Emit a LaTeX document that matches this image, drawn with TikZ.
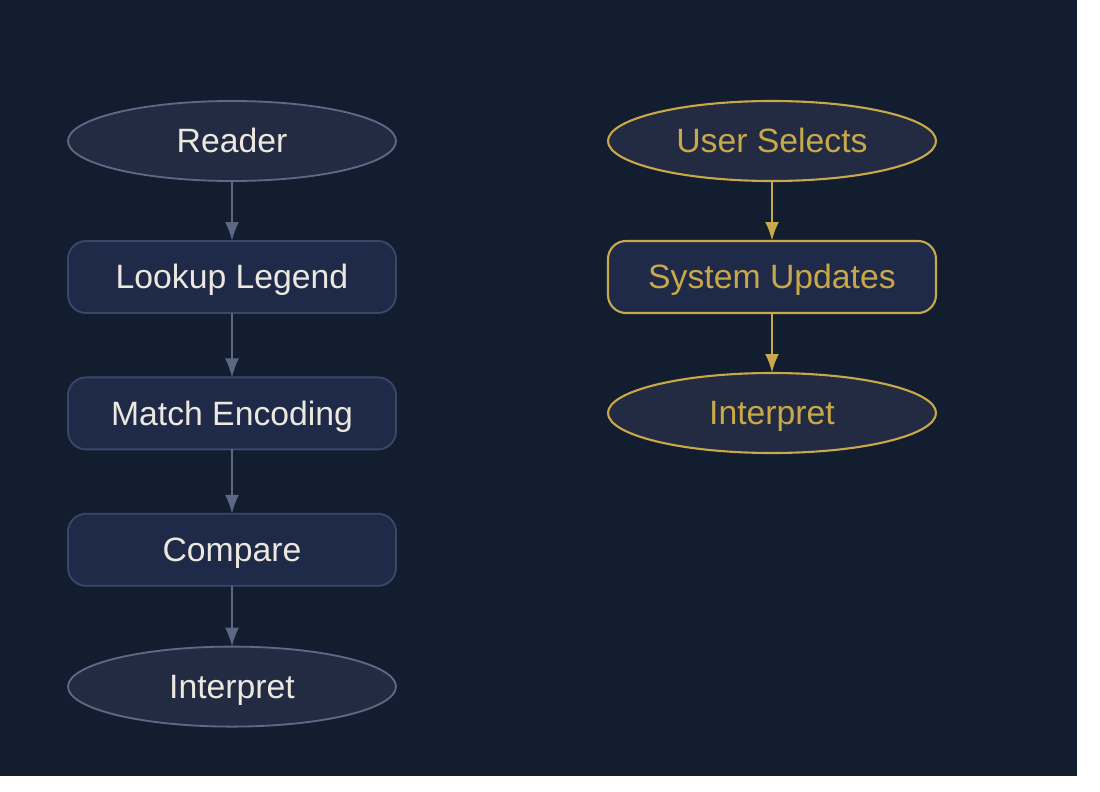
\documentclass[tikz,border=0pt]{standalone}
\usepackage{fontspec}
\setmainfont{Liberation Sans}
\usetikzlibrary{shapes.geometric, arrows.meta, positioning}
\definecolor{pagebg}{HTML}{131D30}
\definecolor{ovalfill}{HTML}{222B42}
\definecolor{ovalline}{HTML}{5D6A85}
\definecolor{boxfill}{HTML}{1E2A47}
\definecolor{boxline}{HTML}{3A4868}
\definecolor{labeltext}{HTML}{ECE8E0}
\definecolor{gold}{HTML}{C9A84A}
\definecolor{linkgray}{HTML}{5C6782}
\tikzset{
  oval/.style={ellipse, draw=ovalline, fill=ovalfill, line width=1.3pt,
               minimum width=8.2cm, minimum height=2.0cm, inner sep=0pt,
               outer sep=0pt, text=labeltext, text height=17pt, text depth=0pt,
               font=\fontsize{24}{28}\selectfont},
  stage/.style={rectangle, rounded corners=0.45cm, draw=boxline, fill=boxfill,
                line width=1.3pt, minimum width=8.2cm, minimum height=1.8cm,
                inner sep=0pt, outer sep=0pt, text=labeltext, text height=17pt,
                text depth=0pt, font=\fontsize{24}{28}\selectfont},
  hot/.style={draw=gold, text=gold, line width=1.5pt},
  arrow/.style={-{Latex[length=0.475cm,width=0.35cm]}, draw=linkgray,
                fill=linkgray, line width=1.5pt},
  hotarrow/.style={-{Latex[length=0.475cm,width=0.35cm]}, draw=gold,
                   fill=gold, line width=2.1pt}
}

\begin{document}
\begin{tikzpicture}

  % canvas
  \fill[white] (0,0) rectangle (27.5,-19.8);
  \fill[pagebg] (0,0) rectangle (26.925,-19.4);
  \useasboundingbox (0,0) rectangle (27.5,-19.8);

  % reading path
  \node[oval] (reader) at (5.8,-3.525) {Reader};

  \node[stage, below=1.5cm of reader] (legend) {Lookup Legend};

  \node[stage, below=1.61cm of legend] (match) {Match Encoding};

  \node[stage, below=1.61cm of match] (compare) {Compare};

  \node[oval, below=1.52cm of compare] (interpret) {Interpret};

  % interactive path
  \node[oval, hot, right=5.3cm of reader] (select) {User Selects};

  \node[stage, hot, below=1.5cm of select] (update) {System Updates};

  \node[oval, hot, below=1.5cm of update] (result) {Interpret};

  \draw[arrow] (reader)  -- (legend);
  \draw[arrow] (legend)  -- (match);
  \draw[arrow] (match)   -- (compare);
  \draw[arrow] (compare) -- (interpret);

  \draw[hotarrow] (select) -- (update);
  \draw[hotarrow] (update) -- (result);

\end{tikzpicture}
\end{document}
